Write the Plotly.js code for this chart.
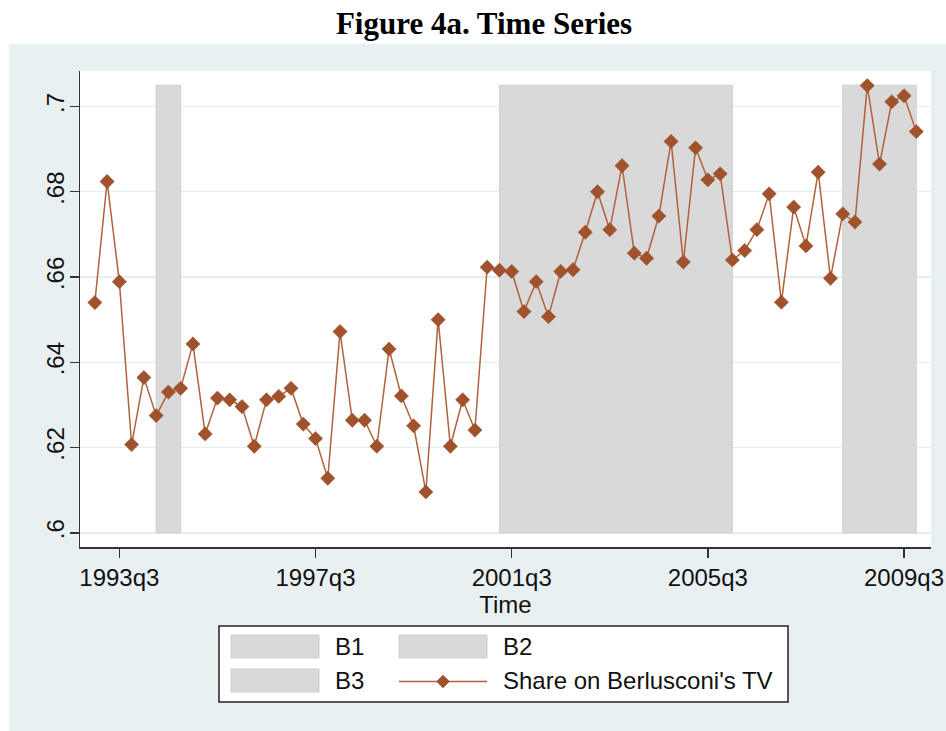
<!DOCTYPE html>
<html><head><meta charset="utf-8">
<script src="https://cdn.plot.ly/plotly-3.0.1.min.js"></script>
<style>html,body{margin:0;padding:0;background:#fff;} #chart{width:946px;height:731px;}</style>
</head><body><div id="chart"></div>
<script>
// ---- data ----
const firstQuarter = '1993q1';
const shareBerlusconiTV = [
  0.654, 0.6824, 0.6589, 0.6207,
  0.6364, 0.6275, 0.633, 0.6339,
  0.6443, 0.6232, 0.6316, 0.6312,
  0.6296, 0.6203, 0.6312, 0.632,
  0.6339, 0.6255, 0.6221, 0.6128,
  0.6472, 0.6264, 0.6264, 0.6203,
  0.6431, 0.6321, 0.6251, 0.6096,
  0.65, 0.6203, 0.6312, 0.6241,
  0.6623, 0.6616, 0.6613, 0.6519,
  0.6589, 0.6507, 0.6613, 0.6617,
  0.6705, 0.68, 0.6711, 0.6861,
  0.6656, 0.6644, 0.6743, 0.6918,
  0.6635, 0.6903, 0.6828, 0.6842,
  0.664, 0.6662, 0.6711, 0.6795,
  0.6541, 0.6764, 0.6673, 0.6846,
  0.6597, 0.6748, 0.6729, 0.7049,
  0.6865, 0.7011, 0.7025, 0.6941
];
const bandNames = ['B1', 'B2', 'B3'];
const bandStart = ['1994q2', '2001q2', '2008q2'];
const bandEnd = ['1994q4', '2006q1', '2009q4'];
const bandLow = 0.6;
const bandHigh = 0.705;
const seriesName = "Share on Berlusconi's TV";
const xTickLabels = ['1993q3', '1997q3', '2001q3', '2005q3', '2009q3'];
const yTickVals = [0.6, 0.62, 0.64, 0.66, 0.68, 0.7];
const yTickText = ['.6', '.62', '.64', '.66', '.68', '.7'];

// ---- helpers ----
function tq(label) { // Stata-like quarterly index
  const m = /^(\d{4})q(\d)$/.exec(label);
  return (parseInt(m[1], 10) - 1960) * 4 + parseInt(m[2], 10) - 1;
}
function qLabel(idx) { return (1960 + Math.floor(idx / 4)) + 'q' + (idx % 4 + 1); }

const x0 = tq(firstQuarter);
const xs = shareBerlusconiTV.map((_, i) => x0 + i);
const xLabels = xs.map(qLabel);

// ---- layout geometry (pixels) ----
const W = 946, H = 731;
const L = 80, R = 15, T = 71, B = 184;
const PW = W - L - R, PH = H - T - B;
const pxX = px => (px - L) / PW;
const pxY = py => (H - B - py) / PH;

const font = 'Liberation Sans, Arial, sans-serif';
const txtColor = '#111';
const bandFill = '#d9d9d9';
const bandLine = '#cfcfcf';
const seriesColor = '#a0522d';
const seriesLine = '#b0623d';

const traces = [];
bandNames.forEach((nm, i) => {
  const s = tq(bandStart[i]), e = tq(bandEnd[i]);
  traces.push({
    type: 'scatter', mode: 'lines', name: nm,
    x: [s, e, e, s, s], y: [bandLow, bandLow, bandHigh, bandHigh, bandLow],
    fill: 'toself', fillcolor: bandFill,
    line: {color: bandLine, width: 1},
    showlegend: false, hoverinfo: 'skip'
  });
});
traces.push({
  type: 'scatter', mode: 'lines+markers', name: seriesName,
  x: xs, y: shareBerlusconiTV, text: xLabels,
  line: {color: seriesLine, width: 1.5},
  marker: {symbol: 'diamond', size: 11, color: seriesColor, line: {color: seriesColor, width: 0.5}},
  showlegend: false,
  hovertemplate: '%{text}: %{y:.3f}<extra></extra>'
});

// ---- legend box drawn as shapes + text (2 x 2 layout like the original) ----
const legendEntries = [bandNames[0], bandNames[1], bandNames[2], seriesName];
const shapes = [
  {type: 'rect', xref: 'paper', yref: 'paper', layer: 'below',
   x0: pxX(0), x1: pxX(W), y0: pxY(44), y1: pxY(0),
   fillcolor: '#ffffff', line: {width: 0}},
  {type: 'rect', xref: 'paper', yref: 'paper', layer: 'below',
   x0: pxX(0), x1: pxX(9), y0: pxY(H), y1: pxY(44),
   fillcolor: '#ffffff', line: {width: 0}},
  {type: 'rect', xref: 'paper', yref: 'paper', layer: 'above',
   x0: pxX(219), x1: pxX(788), y0: pxY(702), y1: pxY(626),
   fillcolor: '#ffffff', line: {color: '#222', width: 1.5}}
];
const annotations = [];
const cols = [231, 399], rows = [646.5, 680.5];
const swW = 88, swH = 23, txtOff = 102;
legendEntries.forEach((nm, i) => {
  const cx = cols[i % 2], cy = rows[Math.floor(i / 2)];
  if (i < 3) {
    shapes.push({type: 'rect', xref: 'paper', yref: 'paper', layer: 'above',
      x0: pxX(cx), x1: pxX(cx + swW), y0: pxY(cy + swH / 2), y1: pxY(cy - swH / 2),
      fillcolor: bandFill, line: {color: bandLine, width: 1}});
  } else {
    shapes.push({type: 'line', xref: 'paper', yref: 'paper', layer: 'above',
      x0: pxX(cx), x1: pxX(cx + swW), y0: pxY(cy + 1), y1: pxY(cy + 1),
      line: {color: seriesLine, width: 1.5}});
    const mx = cx + swW / 2, my = cy + 1, r = 6.5;
    shapes.push({type: 'path', xref: 'paper', yref: 'paper', layer: 'above',
      path: `M${pxX(mx)},${pxY(my - r)} L${pxX(mx + r)},${pxY(my)} L${pxX(mx)},${pxY(my + r)} L${pxX(mx - r)},${pxY(my)} Z`,
      fillcolor: seriesColor, line: {color: seriesColor, width: 0.5}});
  }
  annotations.push({
    xref: 'paper', yref: 'paper', x: pxX(cx + txtOff), y: pxY(cy),
    xanchor: 'left', yanchor: 'middle', showarrow: false, text: nm,
    font: {family: font, size: 24, color: txtColor}
  });
});

const layout = {
  width: W, height: H,
  margin: {l: L, r: R, t: T, b: B, pad: 0},
  paper_bgcolor: '#e8f0f2',
  plot_bgcolor: '#ffffff',
  showlegend: false,
  title: {
    text: '<b>Figure 4a. Time Series</b>',
    font: {family: 'Liberation Serif, Times New Roman, serif', size: 31, color: '#000'},
    xref: 'container', yref: 'container', x: 484 / W, xanchor: 'center',
    y: 1 - 23 / H, yanchor: 'middle'
  },
  xaxis: {
    range: [130.79, 200.2],
    tickvals: xTickLabels.map(tq), ticktext: xTickLabels,
    ticks: 'outside', ticklen: 9, tickwidth: 1.5, tickcolor: '#333',
    showline: true, linecolor: '#333', linewidth: 1.5,
    showgrid: false, zeroline: false,
    tickfont: {family: font, size: 24, color: txtColor},
    title: {text: 'Time', font: {family: font, size: 24, color: txtColor}, standoff: 0}
  },
  yaxis: {
    range: [0.59667, 0.70832],
    tickvals: yTickVals, ticktext: yTickText, tickangle: -90,
    ticklabelstandoff: -4,
    ticks: 'outside', ticklen: 9, tickwidth: 1.5, tickcolor: '#333',
    showline: true, linecolor: '#333', linewidth: 1.5,
    showgrid: true, gridcolor: '#e3eef0', gridwidth: 1.5, zeroline: false,
    tickfont: {family: font, size: 24, color: txtColor}
  },
  shapes: shapes,
  annotations: annotations
};

Plotly.newPlot('chart', traces, layout, {displayModeBar: false, staticPlot: true});
</script>
</body></html>
